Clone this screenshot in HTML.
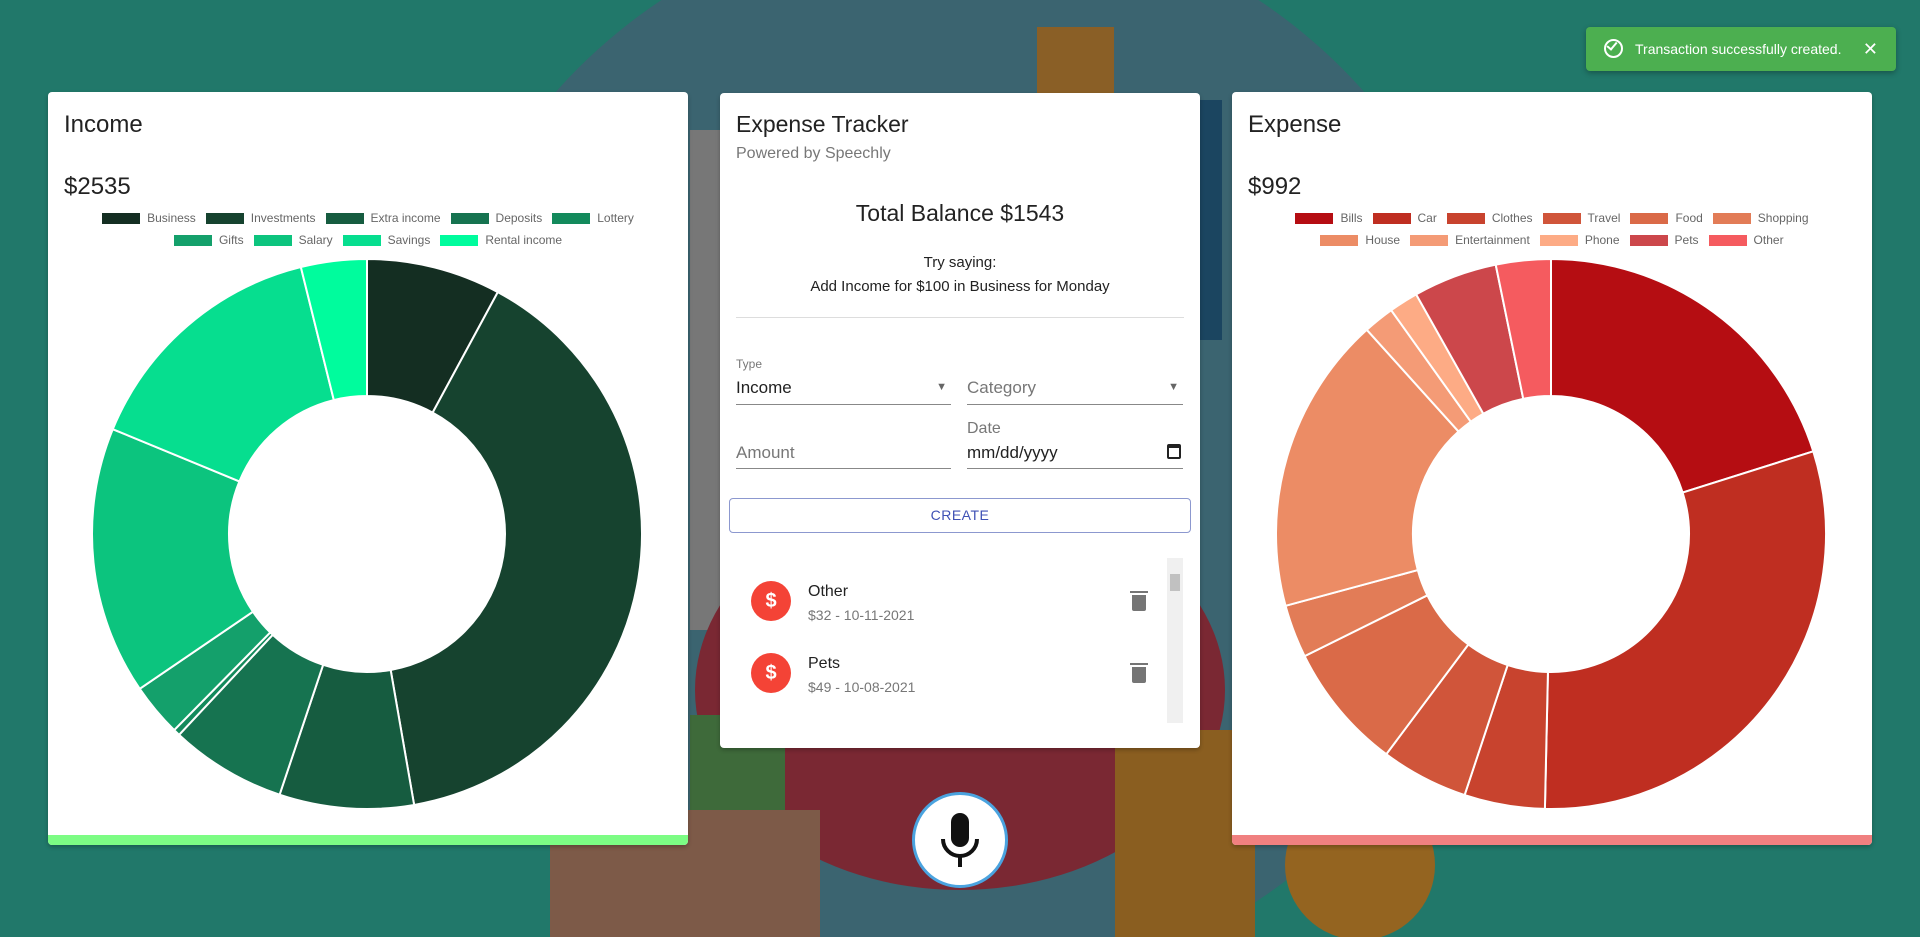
<!DOCTYPE html>
<html><head><meta charset="utf-8">
<style>
*{box-sizing:border-box;margin:0;padding:0}
html,body{width:1920px;height:937px;overflow:hidden}
body{background:#21786a;font-family:"Liberation Sans",Arial,sans-serif;position:relative}
.abs{position:absolute}
.card{position:absolute;background:#fff;border-radius:4px;box-shadow:0 2px 4px rgba(0,0,0,.25);overflow:hidden}
.title{position:absolute;left:16px;top:19px;font-size:24px;color:#222}
.total{position:absolute;left:16px;top:81px;font-size:24px;color:#222}
.legend{position:absolute;left:0;width:100%;display:flex;justify-content:center;font-size:12px;color:#666;line-height:14px}
.li{display:flex;align-items:center;margin:0 5px}
.li i{display:inline-block;width:38px;height:11px;margin-right:7px}
.bar{position:absolute;left:0;bottom:0;width:100%;height:10px}
.field{position:absolute;border-bottom:1px solid #888;font-size:17px;color:#222}
.lbl{position:absolute;font-size:12px;color:#777}
.item .av{position:absolute;width:40px;height:40px;border-radius:50%;background:#f44336;color:#fff;font-size:20px;text-align:center;line-height:40px;font-weight:bold}
.trash{position:absolute;width:14px;height:16px;background:#757575;border-radius:0 0 2px 2px}
.trash:before{content:"";position:absolute;left:-2px;top:-4px;width:18px;height:2px;background:#757575}
</style></head><body>
<svg class="abs" style="left:0;top:0" width="1920" height="937">
<circle cx="960" cy="450" r="540" fill="#3b6470"/>
<rect x="1037" y="27" width="77" height="100" fill="#8a5f26"/>
<rect x="1160" y="100" width="62" height="240" fill="#1b4560"/>
<rect x="690" y="130" width="30" height="500" fill="#777"/>
<ellipse cx="960" cy="690" rx="265" ry="200" fill="#7a2833"/>
<rect x="550" y="810" width="270" height="127" fill="#7d5a48"/>
<rect x="1115" y="730" width="140" height="207" fill="#8a5e20"/>
<circle cx="1360" cy="865" r="75" fill="#946420"/>
<rect x="690" y="715" width="95" height="95" fill="#3e6a3a"/>
</svg>

<div class="card" style="left:48px;top:92px;width:640px;height:753px">
<div class="title">Income</div>
<div class="total">$2535</div>
<div id="incLeg"></div>
<svg id="incSvg" class="abs" style="left:0;top:0" width="640" height="753"></svg>
<div class="bar" style="background:#7cfc84"></div>
</div>

<div class="card" style="left:1232px;top:92px;width:640px;height:753px">
<div class="title">Expense</div>
<div class="total">$992</div>
<div id="expLeg"></div>
<svg id="expSvg" class="abs" style="left:0;top:0" width="640" height="753"></svg>
<div class="bar" style="background:#f08080"></div>
</div>

<div class="card" style="left:720px;top:93px;width:480px;height:655px">
<div class="abs" style="left:16px;top:18px;font-size:23px;color:#222">Expense Tracker</div>
<div class="abs" style="left:16px;top:52px;font-size:16px;color:#777">Powered by Speechly</div>
<div class="abs" style="left:0;width:480px;top:107px;text-align:center;font-size:23px;color:#222">Total Balance $1543</div>
<div class="abs" style="left:0;width:480px;top:158px;text-align:center;font-size:15px;color:#222;line-height:24px">Try saying:<br>Add Income for $100 in Business for Monday</div>
<div class="abs" style="left:16px;width:448px;top:224px;height:1px;background:#ddd"></div>
<div class="lbl" style="left:16px;top:264px">Type</div>
<div class="field" style="left:16px;top:285px;width:215px;height:27px">Income<span style="position:absolute;right:4px;top:3px;font-size:11px;color:#666">▼</span></div>
<div class="field" style="left:247px;top:285px;width:216px;height:27px;color:#777">Category<span style="position:absolute;right:4px;top:3px;font-size:11px;color:#666">▼</span></div>
<div class="field" style="left:16px;top:350px;width:215px;height:26px;color:#777">Amount</div>
<div class="lbl" style="left:247px;top:327px;font-size:16px">Date</div>
<div class="field" style="left:247px;top:350px;width:216px;height:26px">mm/dd/yyyy<span style="position:absolute;right:2px;top:1px;width:14px;height:15px;border:2px solid #222;border-top-width:4px;border-radius:2px"></span></div>
<div class="abs" style="left:9px;top:405px;width:462px;height:35px;border:1px solid #8c98cf;border-radius:4px;text-align:center;line-height:33px;color:#3f51b5;font-size:14px;letter-spacing:.5px">CREATE</div>
<div class="abs" style="left:447px;top:465px;width:16px;height:165px;background:#f0f0f0"><div style="position:absolute;left:3px;top:16px;width:10px;height:17px;background:#c1c1c1"></div></div>
<div class="item">
<div class="av" style="left:31px;top:488px">$</div>
<div class="abs" style="left:88px;top:490px;font-size:16px;color:#222">Other</div>
<div class="abs" style="left:88px;top:514px;font-size:14px;color:#777">$32 - 10-11-2021</div>
<div class="trash" style="left:412px;top:502px"></div>
</div>
<div class="item">
<div class="av" style="left:31px;top:560px">$</div>
<div class="abs" style="left:88px;top:562px;font-size:16px;color:#222">Pets</div>
<div class="abs" style="left:88px;top:586px;font-size:14px;color:#777">$49 - 10-08-2021</div>
<div class="trash" style="left:412px;top:574px"></div>
</div>
</div>

<div class="abs" style="left:1586px;top:27px;width:310px;height:44px;background:#4caf50;border-radius:4px;box-shadow:0 2px 6px rgba(0,0,0,.3);color:#fff;font-size:14px;line-height:44px">
<span style="position:absolute;left:18px;top:12px;width:19px;height:19px;border:2px solid #fff;border-radius:50%"></span>
<span style="position:absolute;left:23px;top:13px;width:6px;height:10px;border-right:2px solid #fff;border-bottom:2px solid #fff;transform:rotate(40deg)"></span>
<span style="position:absolute;left:49px">Transaction successfully created.</span>
<span style="position:absolute;right:18px;font-size:18px">✕</span>
</div>

<div class="abs" style="left:912px;top:792px;width:96px;height:96px;border-radius:50%;background:#fff;border:3px solid #4aa3df">
<svg width="90" height="90" style="position:absolute;left:0;top:0"><rect x="36" y="18" width="18" height="34" rx="9" fill="#111"/><path d="M28 44 a17 17 0 0 0 34 0" stroke="#111" stroke-width="4" fill="none"/><rect x="43" y="60" width="4" height="12" fill="#111"/></svg>
</div>

<script>
const incomeCategories=["Business","Investments","Extra income","Deposits","Lottery","Gifts","Salary","Savings","Rental income"];
const incomeValues=[200,998,200,173,10,79,399,378,98];
const incomeColors=["#142e22","#16432f","#165c40","#167350","#138a5c","#14a06b","#0cc47e","#06de8f","#00fc9d"];
const expenseCategories=["Bills","Car","Clothes","Travel","Food","Shopping","House","Entertainment","Phone","Pets","Other"];
const expenseValues=[200,300,47,51,74,31,174,18,17,49,32];
const expenseColors=["#b50d12","#bf2e21","#c8432e","#d0553a","#da6a48","#e27c57","#ec8c65","#f49b76","#fdab85","#cc474b","#f55b5f"];
const NS="http://www.w3.org/2000/svg";
function legend(id,cats,cols,split){
  const host=document.getElementById(id);
  [cats.slice(0,split),cats.slice(split)].forEach((row,ri)=>{
    const r=document.createElement('div');r.className='legend';r.style.top=(119+ri*22)+'px';
    
    
    row.forEach((c)=>{const k=cats.indexOf(c);const it=document.createElement('div');it.className='li';
      
      
      it.innerHTML='<i style="background:'+cols[k]+'"></i>'+c;r.appendChild(it);});
    host.appendChild(r);
  });
}
function donut(id,vals,cols,cx,cy,R,r){
  const svg=document.getElementById(id);const tot=vals.reduce((a,b)=>a+b,0);let a0=0;
  const pt=(a,rad)=>[cx+rad*Math.sin(a),cy-rad*Math.cos(a)];
  vals.forEach((v,i)=>{const a1=a0+v/tot*2*Math.PI;const lg=(a1-a0)>Math.PI?1:0;
    const p1=pt(a0,R),p2=pt(a1,R),p3=pt(a1,r),p4=pt(a0,r);
    const p=document.createElementNS(NS,'path');
    p.setAttribute('d',`M${p1}A${R},${R} 0 ${lg} 1 ${p2}L${p3}A${r},${r} 0 ${lg} 0 ${p4}Z`);
    p.setAttribute('fill',cols[i]);p.setAttribute('stroke','#fff');p.setAttribute('stroke-width','2');
    
    
    svg.appendChild(p);a0=a1;});
}
legend('incLeg',incomeCategories,incomeColors,5);
legend('expLeg',expenseCategories,expenseColors,6);
donut('incSvg',incomeValues,incomeColors,319,442,275,138);
donut('expSvg',expenseValues,expenseColors,319,442,275,138);
</script>
</body></html>
